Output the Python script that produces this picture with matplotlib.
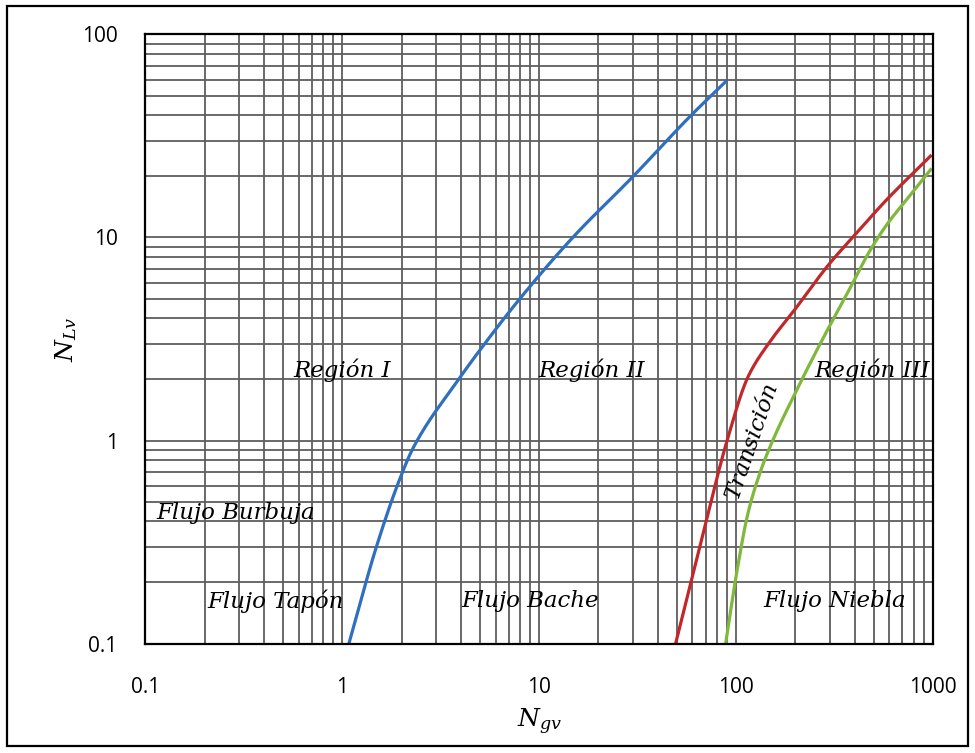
import numpy as np
import matplotlib
matplotlib.use("Agg")
import matplotlib.pyplot as plt
from matplotlib.patches import Rectangle
from matplotlib.ticker import LogLocator, FixedLocator, NullFormatter

plt.rcParams["mathtext.fontset"] = "dejavuserif"

# Boundary between Region I and Region II
blue_x = [1.08, 1.49, 1.95, 2.29, 3.88, 5.0, 7.98, 14.8, 30.0, 58.2, 89.5]
blue_y = [0.1, 0.3, 0.64, 0.92, 1.99, 2.79, 5.0, 10.0, 20.0, 39.4, 59.2]

# Boundary between Region II and the transition zone
red_x = [49.3, 66.5, 90.0, 115.0, 148.6, 195.0, 299.0, 394.0, 580.0, 984.0]
red_y = [0.1, 0.32, 1.0, 2.06, 3.07, 4.31, 7.46, 10.1, 15.3, 25.5]

# Boundary between the transition zone and Region III
green_x = [88.5, 100.6, 115.0, 132.0, 148.6, 203.0, 277.0, 378.0, 478.0, 580.0, 760.0, 984.0]
green_y = [0.1, 0.222, 0.44, 0.69, 0.93, 1.77, 3.2, 5.6, 8.6, 11.5, 16.0, 21.9]

x_ticks = [0.1, 1, 10, 100, 1000]
x_tick_labels = ["0.1", "1", "10", "100", "1000"]
y_ticks = [0.1, 1, 10, 100]
y_tick_labels = ["0.1", "1", "10", "100"]

# Region labels: (text, x, y, rotation)
region_labels = [
    ("Región I", 1.0, 2.22, 0),
    ("Región II", 18.5, 2.22, 0),
    ("Región III", 490.0, 2.22, 0),
    ("Flujo Burbuja", 0.288, 0.44, 0),
    ("Flujo Tapón", 0.46, 0.162, 0),
    ("Flujo Bache", 8.97, 0.162, 0),
    ("Flujo Niebla", 318.0, 0.162, 0),
    ("Transición", 121.0, 1.0, 71),
]


def smooth_loglog(xs, ys, n=400):
    """Monotone cubic (Fritsch-Carlson) through the points in log-log space."""
    lx = np.log10(np.asarray(xs, float))
    ly = np.log10(np.asarray(ys, float))
    h = np.diff(lx)
    d = np.diff(ly) / h
    m = np.empty_like(lx)
    m[0], m[-1] = d[0], d[-1]
    for i in range(1, len(lx) - 1):
        if d[i - 1] * d[i] <= 0:
            m[i] = 0.0
        else:
            w1 = 2 * h[i] + h[i - 1]
            w2 = h[i] + 2 * h[i - 1]
            m[i] = (w1 + w2) / (w1 / d[i - 1] + w2 / d[i])
    tx = np.linspace(lx[0], lx[-1], n)
    idx = np.clip(np.searchsorted(lx, tx) - 1, 0, len(h) - 1)
    t = (tx - lx[idx]) / h[idx]
    h00 = 2 * t**3 - 3 * t**2 + 1
    h10 = t**3 - 2 * t**2 + t
    h01 = -2 * t**3 + 3 * t**2
    h11 = t**3 - t**2
    ty = (h00 * ly[idx] + h10 * h[idx] * m[idx]
          + h01 * ly[idx + 1] + h11 * h[idx] * m[idx + 1])
    return 10 ** tx, 10 ** ty


fig = plt.figure(figsize=(9.75, 7.53), dpi=100)
ax = fig.add_axes([0.1492, 0.1454, 0.9569 - 0.1492, 0.9542 - 0.1454])
ax.set_xscale("log")
ax.set_yscale("log")
ax.set_xlim(0.1, 1000)
ax.set_ylim(0.1, 100)

ax.xaxis.set_major_locator(FixedLocator(x_ticks))
ax.yaxis.set_major_locator(FixedLocator(y_ticks))
ax.set_xticklabels(x_tick_labels)
ax.set_yticklabels(y_tick_labels)
ax.xaxis.set_minor_locator(LogLocator(base=10, subs=range(2, 10)))
ax.yaxis.set_minor_locator(LogLocator(base=10, subs=range(2, 10)))
ax.xaxis.set_minor_formatter(NullFormatter())
ax.yaxis.set_minor_formatter(NullFormatter())

ax.grid(True, which="both", color="#5e5e5e", linewidth=1.3)
ax.set_axisbelow(True)
ax.tick_params(which="both", length=0)
ax.tick_params(axis="x", pad=24, labelsize=15)
ax.tick_params(axis="y", pad=20, labelsize=15)
for lab in ax.get_xticklabels() + ax.get_yticklabels():
    lab.set_family("Open Sans")
for sp in ax.spines.values():
    sp.set_color("black")
    sp.set_linewidth(1.6)

for xs, ys, col in [(blue_x, blue_y, "#2e6fc0"),
                    (red_x, red_y, "#c0282a"),
                    (green_x, green_y, "#7fb83a")]:
    sx, sy = smooth_loglog(xs, ys)
    ax.plot(sx, sy, color=col, linewidth=2.3, solid_capstyle="butt")

for text, x, y, rot in region_labels:
    ax.text(x, y, text, ha="center", va="center", rotation=rot,
            family="DejaVu Serif", style="italic", fontsize=16.5, color="black")

ax.set_xlabel(r"$N_{gv}$", fontsize=18, labelpad=6)
ax.set_ylabel(r"$N_{Lv}$", fontsize=18, labelpad=2)

# Outer frame around the whole figure
fig.patches.append(Rectangle((7 / 975, 7 / 753), 961 / 975, 740 / 753,
                             transform=fig.transFigure, fill=False,
                             edgecolor="black", linewidth=1.6))

fig.savefig("out.png", dpi=100)
